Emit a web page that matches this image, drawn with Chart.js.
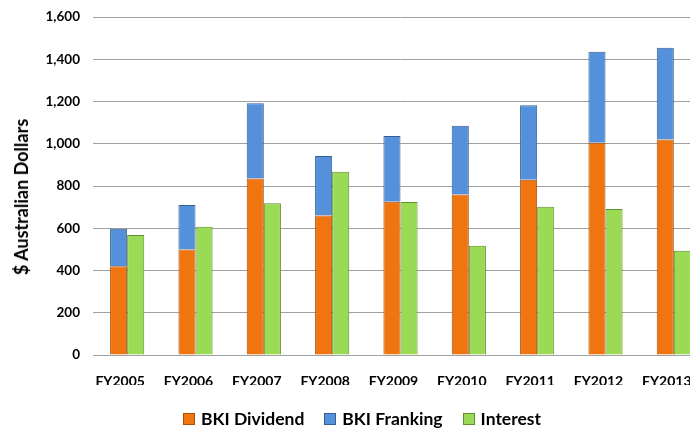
<!DOCTYPE html>
<html>
<head>
<meta charset="utf-8">
<script src="https://cdn.jsdelivr.net/npm/chart.js@4/dist/chart.umd.min.js"></script>
<style>
  html, body { margin: 0; padding: 0; background: #fff; overflow: hidden; width: 690px; height: 431px; }
  #wrap { position: absolute; left: 0; top: 0; width: 708px; height: 431px; }
  #legend { position: absolute; left: 183px; top: 408px; display: flex; align-items: center;
            font-family: Lato, "Open Sans", sans-serif; font-weight: bold; font-size: 17.5px; color: #000; white-space: nowrap; }
  .item { display: flex; align-items: center; margin-right: 20px; }
  .sw { width: 12px; height: 12px; margin-right: 6px; box-sizing: border-box; border: 1px solid; }
  #ytitle { position: absolute; left: 21px; top: 197px; transform: translate(-50%, -50%) rotate(-90deg);
            font-family: Lato, "Open Sans", sans-serif; font-weight: bold; font-size: 18px; color: #000; white-space: nowrap; }
</style>
</head>
<body>
<div id="wrap"><canvas id="c" width="708" height="431"></canvas></div>
<div id="legend"></div>
<div id="ytitle">$ Australian Dollars</div>
<script>
const categories = ["FY2005","FY2006","FY2007","FY2008","FY2009","FY2010","FY2011","FY2012","FY2013"];
const bkiDividend = [420, 500, 835, 660, 725, 760, 830, 1005, 1020];
const bkiFranking = [178, 210, 357, 282, 312, 325, 352, 431, 435];
const interest    = [568, 607, 718, 868, 724, 517, 702, 691, 494];
const yTicks = [0, 200, 400, 600, 800, 1000, 1200, 1400, 1600];

const seriesStyle = [
  { label: "BKI Dividend", fill: "#F07510", border: "#A9500A" },
  { label: "BKI Franking", fill: "#5590DA", border: "#355F94" },
  { label: "Interest",     fill: "#9ADA54", border: "#5F8F2E" }
];

const fontFam = 'Lato, "Open Sans", sans-serif';

new Chart(document.getElementById('c'), {
  type: 'bar',
  data: {
    labels: categories,
    datasets: [
      { label: seriesStyle[0].label, data: bkiDividend, stack: 'a', backgroundColor: seriesStyle[0].fill, borderColor: seriesStyle[0].border, borderWidth: 1 },
      { label: seriesStyle[1].label, data: bkiFranking, stack: 'a', backgroundColor: seriesStyle[1].fill, borderColor: seriesStyle[1].border, borderWidth: 1 },
      { label: seriesStyle[2].label, data: interest, stack: 'b', backgroundColor: seriesStyle[2].fill, borderColor: seriesStyle[2].border, borderWidth: 1 }
    ]
  },
  options: {
    responsive: false,
    animation: false,
    categoryPercentage: 0.5,
    barPercentage: 1.0,
    layout: { padding: { top: 17, bottom: 46, left: 0, right: 0 } },
    plugins: { legend: { display: false }, tooltip: { enabled: false } },
    scales: {
      x: {
        stacked: true,
        grid: { display: false, drawTicks: false },
        border: { display: true, color: '#A0A0A0', width: 1 },
        ticks: { color: '#000', font: { family: fontFam, weight: 'bold', size: 14 }, padding: 18, labelOffset: -7, maxRotation: 0, autoSkip: false },
        afterFit: s => { s.height = 30; s.paddingLeft = 0; s.paddingRight = 0; }
      },
      y: {
        stacked: true,
        min: 0, max: 1600,
        afterBuildTicks: s => { s.ticks = yTicks.map(v => ({ value: v })); },
        grid: { color: '#A0A0A0', drawTicks: false, lineWidth: 1 },
        border: { display: false },
        ticks: {
          color: '#000', padding: 13,
          font: { family: fontFam, weight: 'bold', size: 13.5 },
          callback: v => v.toLocaleString('en-US')
        },
        afterFit: s => { s.width = 93; s.paddingTop = 0; s.paddingBottom = 0; }
      }
    }
  }
});

const leg = document.getElementById('legend');
seriesStyle.forEach(s => {
  const it = document.createElement('div'); it.className = 'item';
  const sw = document.createElement('div'); sw.className = 'sw';
  sw.style.background = s.fill; sw.style.borderColor = s.border;
  const t = document.createElement('span'); t.textContent = s.label;
  it.appendChild(sw); it.appendChild(t); leg.appendChild(it);
});
</script>
</body>
</html>
